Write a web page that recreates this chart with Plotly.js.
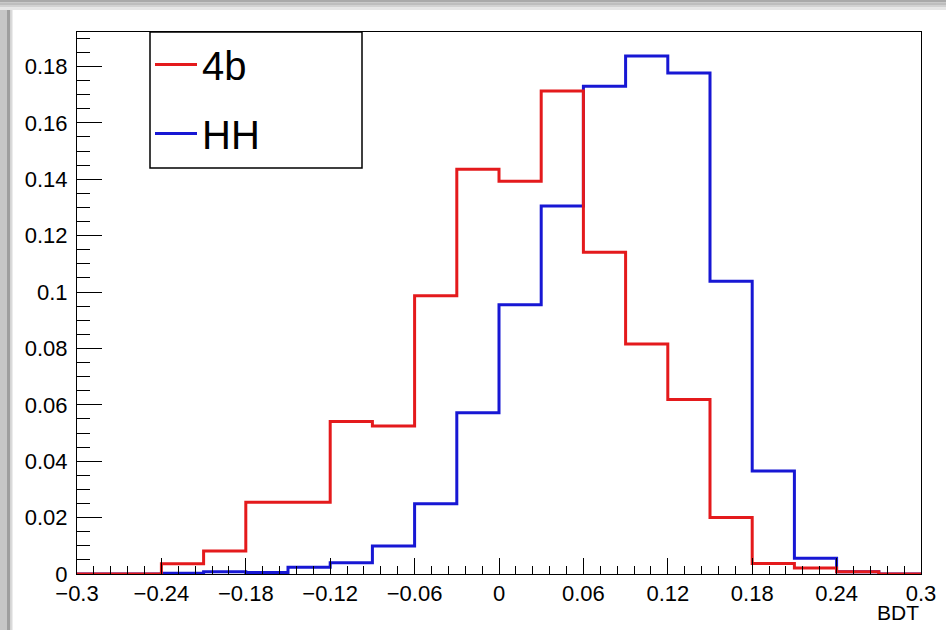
<!DOCTYPE html>
<html>
<head>
<meta charset="utf-8">
<script src="https://cdn.plot.ly/plotly-3.0.1.min.js"></script>
<style>html,body{margin:0;padding:0;background:#fff;}</style>
</head>
<body>
<div id="chart" style="width:946px;height:630px;"></div>
<script>
// Bin edges of the BDT histograms (20 bins of 0.03)
var binEdges = [-0.3, -0.27, -0.24, -0.21, -0.18, -0.15, -0.12, -0.09, -0.06, -0.03, 0,
                0.03, 0.06, 0.09, 0.12, 0.15, 0.18, 0.21, 0.24, 0.27, 0.3];
// Normalised bin contents
var values4b = [0, 0, 0.0036, 0.0082, 0.0254, 0.0254, 0.0541, 0.0525, 0.0987, 0.1435,
                0.1393, 0.1713, 0.1141, 0.0816, 0.0619, 0.0200, 0.0037, 0.0021, 0.0008, 0];
var valuesHH = [0, 0, 0.0003, 0.0008, 0.0005, 0.0024, 0.0040, 0.0099, 0.0249, 0.0572,
                0.0955, 0.1305, 0.1730, 0.1837, 0.1777, 0.1038, 0.0365, 0.0056, 0.0008, 0];
var seriesNames = ['4b', 'HH'];
var xTitle = 'BDT';

function stepY(vals) { return vals.concat([vals[vals.length - 1]]); }

var traceHH = {
  type: 'scatter', mode: 'lines', name: seriesNames[1],
  x: binEdges, y: stepY(valuesHH),
  line: {shape: 'hv', color: '#1717d4', width: 3},
  legendgroup: 'g2', legendrank: 2, hoverinfo: 'skip'
};
var trace4b = {
  type: 'scatter', mode: 'lines', name: seriesNames[0],
  x: binEdges, y: stepY(values4b),
  line: {shape: 'hv', color: '#e41a1c', width: 3},
  legendgroup: 'g1', legendrank: 1, hoverinfo: 'skip'
};

// pixel -> paper helpers for decoration
var L = 77, R = 25, T = 32, B = 56, W = 946, H = 630;
var pw = W - L - R, ph = H - T - B;
function px(x) { return (x - L) / pw; }
function py(y) { return (H - B - y) / ph; }

var shapes = [];
var topCols = ['#a9a9a9', '#bdbdbd', '#d1d1d1', '#e6e6e6'];
for (var i = 0; i < topCols.length; i++) {
  shapes.push({type: 'rect', xref: 'paper', yref: 'paper', layer: 'below',
    x0: px(0), x1: px(W), y0: py(i * 2.5 + 2.5), y1: py(i * 2.5),
    fillcolor: topCols[i], line: {width: 0}});
}
var leftBands = [[0, 7, '#c6c6c6'], [7, 10.5, '#9e9e9e'], [10.5, 12.5, '#dadada']];
leftBands.forEach(function (b) {
  shapes.push({type: 'rect', xref: 'paper', yref: 'paper', layer: 'below',
    x0: px(b[0]), x1: px(b[1]), y0: py(H), y1: py(10),
    fillcolor: b[2], line: {width: 0}});
});
// legend frame
shapes.push({type: 'rect', xref: 'paper', yref: 'paper',
  x0: px(150), x1: px(362), y0: py(168), y1: py(32),
  fillcolor: 'rgba(0,0,0,0)', line: {color: '#000', width: 1.5}});

var tickFont = {family: 'Liberation Sans, Arial, sans-serif', size: 22, color: '#000'};

var layout = {
  width: W, height: H, autosize: false,
  margin: {l: L, r: R, t: T, b: B, pad: 0},
  paper_bgcolor: '#ffffff', plot_bgcolor: '#ffffff',
  showlegend: true,
  legend: {
    x: px(150), xanchor: 'left', y: 1, yanchor: 'top',
    bgcolor: 'rgba(0,0,0,0)', borderwidth: 0,
    font: {family: 'Liberation Sans, Arial, sans-serif', size: 40, color: '#000'},
    traceorder: 'grouped', tracegroupgap: 14, itemwidth: 42
  },
  xaxis: {
    range: [-0.3, 0.3], tick0: -0.3, dtick: 0.06, tickmode: 'linear',
    ticks: 'inside', ticklen: 16, tickwidth: 1, tickcolor: '#000',
    minor: {tick0: -0.3, dtick: 0.012, ticks: 'inside', ticklen: 8, tickwidth: 1, tickcolor: '#000', showgrid: false},
    showgrid: false, zeroline: false, showline: true, mirror: true,
    linecolor: '#000', linewidth: 1, tickfont: tickFont
  },
  yaxis: {
    range: [0, 0.1922], tick0: 0, dtick: 0.02, tickmode: 'linear',
    ticks: 'inside', ticklen: 25, tickwidth: 1, tickcolor: '#000',
    minor: {tick0: 0, dtick: 0.005, ticks: 'inside', ticklen: 12.5, tickwidth: 1, tickcolor: '#000', showgrid: false},
    showgrid: false, zeroline: false, showline: true, mirror: true,
    linecolor: '#000', linewidth: 1, tickfont: tickFont, ticklabelstandoff: 4
  },
  annotations: [{
    text: xTitle, xref: 'paper', yref: 'paper', x: 1, xanchor: 'right',
    y: py(612), yanchor: 'middle', showarrow: false,
    font: {family: 'Liberation Sans, Arial, sans-serif', size: 21, color: '#000'}
  }],
  shapes: shapes
};

Plotly.newPlot('chart', [traceHH, trace4b], layout, {displayModeBar: false, staticPlot: true});
</script>
</body>
</html>
